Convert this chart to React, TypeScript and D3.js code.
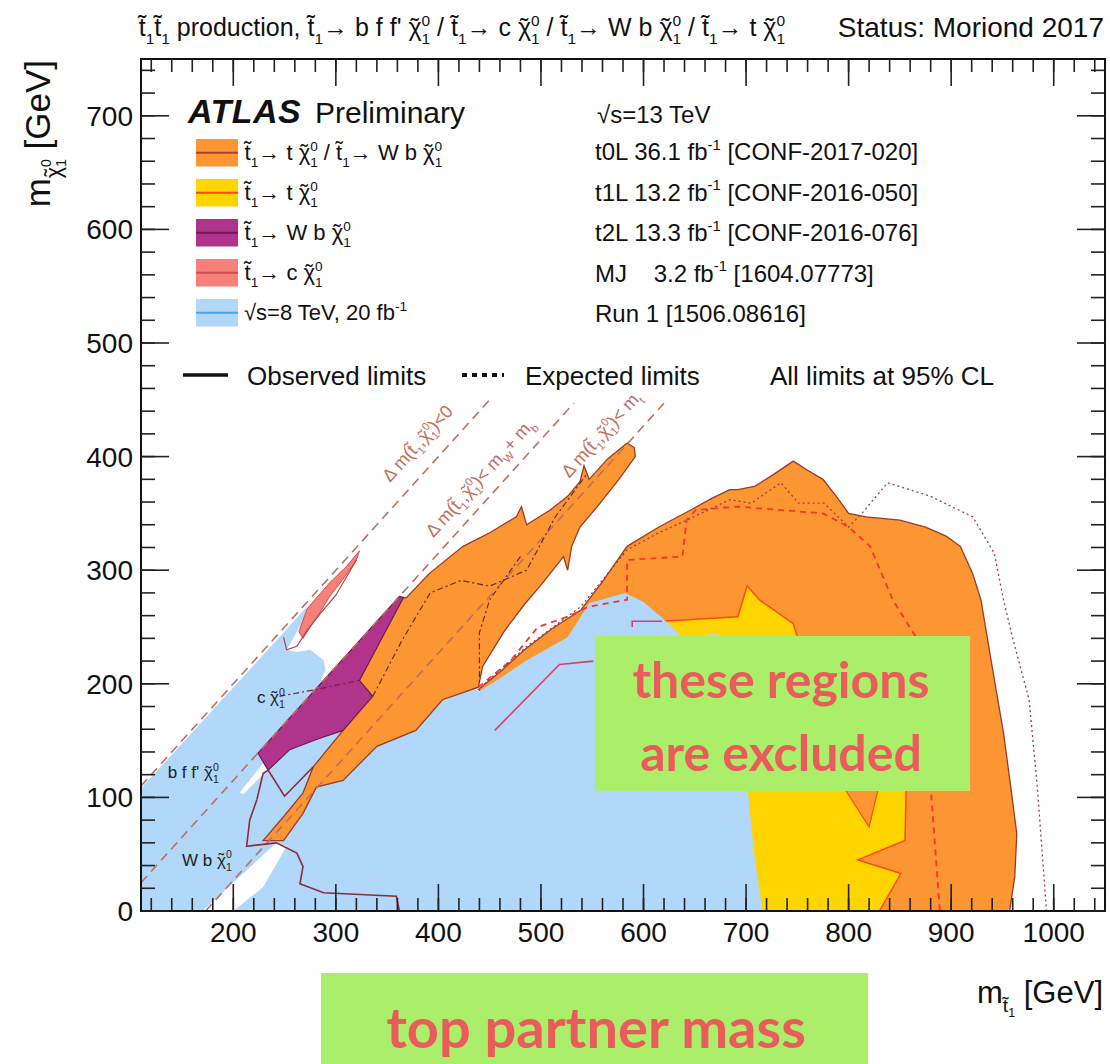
import * as d3 from "d3";

// axis ticks (GeV)
const xTickLabels = [200, 300, 400, 500, 600, 700, 800, 900, 1000];
const yTickLabels = [0, 100, 200, 300, 400, 500, 600, 700];

// exclusion contours, points are [m_stop, m_chi] in GeV
const run1Blue = [
  [110, 0], [110, 108], [250, 246], [272, 268], [268, 256], [262, 246], [256, 236], [252, 230],
  [262, 228], [275, 230], [288, 221], [290, 212], [285, 203], [300, 205], [320, 205],
  [360, 230], [400, 200], [430, 198], [439, 193], [462, 206], [485, 220], [526, 241],
  [547, 271], [582, 280], [600, 272], [617, 259], [638, 241], [672, 244], [695, 220],
  [700, 150], [702, 104], [708, 50], [716, 0],
];
const run1Gaps = [
  [[170, 0], [206, 30], [242, 60], [252, 57], [229, 21], [200, 0]],
  [[206, 104], [229, 130], [233, 124], [210, 103]],
];
const t0LBand = [
  [229, 62], [249, 83], [268, 104], [278, 127], [307, 159], [323, 203], [359, 274], [369, 276],
  [391, 297], [424, 321], [450, 333], [476, 347], [481, 356], [486, 340], [509, 353], [526, 365],
  [538, 378], [542, 392], [547, 380], [565, 398], [584, 412], [591, 408], [592, 400], [576, 380],
  [555, 356], [538, 338], [530, 321], [526, 300], [522, 312], [501, 288], [484, 270], [464, 246],
  [443, 215], [439, 197], [404, 186], [378, 159], [340, 145], [307, 115], [281, 109], [268, 86],
  [249, 62],
];
const t0LBlob = [
  [439, 195], [462, 212], [484, 230], [510, 248], [539, 265], [560, 290], [584, 321], [615, 338],
  [646, 353], [666, 363], [684, 371], [692, 371], [709, 374], [728, 385], [746, 396], [760, 388],
  [775, 380], [788, 365], [800, 350], [817, 347], [850, 344], [875, 338], [895, 330], [909, 321],
  [921, 297], [929, 274], [940, 215], [951, 157], [958, 110], [964, 68], [962, 30], [957, 0],
  [600, 0], [520, 120], [460, 180],
];
const t0LSpike = [[793, 112], [820, 74], [830, 112]];
const t1LYellow = [
  [640, 0], [830, 0], [851, 33], [809, 45], [855, 62], [856, 104], [856, 150], [820, 180],
  [790, 205], [768, 225], [750, 241], [746, 253], [713, 274], [701, 286], [692, 259], [618, 255],
  [600, 250], [640, 100],
];
const t2LPurple = [
  [224, 139], [362, 277], [366, 276], [323, 203], [336, 189], [307, 159], [281, 151], [255, 142],
  [234, 124],
];
const mjSalmon = [
  [264, 246], [272, 266], [294, 289], [310, 303], [323, 317], [320, 309], [307, 292], [294, 277],
  [284, 262], [275, 250], [268, 240],
];

// contour lines
const t2LObserved = [
  [[223, 98], [216, 80], [213, 57], [242, 60], [262, 51], [268, 39], [265, 24], [288, 16], [359, 13], [362, 0]],
  [[223, 98], [229, 121], [234, 124], [250, 101], [278, 127]],
];
const t2LExpected = [[245, 189], [281, 195], [323, 203]];
const mjObserved = [[249, 241], [252, 230], [262, 233], [272, 247], [285, 262], [300, 278], [320, 309]];
const t1LObserved = [
  [[455, 159], [518, 217], [551, 220]],
  [[589, 250], [589, 255], [618, 255]],
];
const t1LExpected = [
  [439, 197], [470, 220], [497, 250], [526, 259], [547, 268], [584, 274], [584, 309], [638, 312],
  [642, 344], [651, 353], [692, 356], [775, 350], [800, 338], [821, 321], [843, 274], [865, 242],
  [880, 109], [889, 0],
];
const t0LExpected = [
  [445, 200], [485, 232], [539, 268], [584, 318], [615, 333], [642, 344], [684, 362], [705, 359],
  [734, 377], [751, 359], [776, 359], [800, 338], [813, 350], [838, 377], [880, 365], [921, 347],
  [942, 315], [951, 274], [960, 240], [976, 186], [984, 109], [993, 0],
];
const bandExpected = [
  [[336, 189], [365, 239], [392, 280], [422, 291], [450, 286], [486, 300], [514, 347], [545, 385]],
  [[480, 312], [450, 274], [440, 245], [440, 200]],
];

// kinematic limits m_chi = m_stop - offset
const diagOffsets = [0, 85, 173];
const diagEnds = [452, 532, 620];
const diagLabelPos = [[384, 408], [445, 378], [563, 416]];

type Seg = string | { sub?: string; sup?: string; raw?: string; scale?: number; shift?: number; dx?: number };

const T = "t\u0303";
const CHI = "\u03c7\u0303";

const diagLabels: Seg[][] = [
  ["\u0394 m(" + T, { sub: "1" }, "," + CHI, { sub: "1", sup: "0" }, ")<0"],
  ["\u0394 m(" + T, { sub: "1" }, "," + CHI, { sub: "1", sup: "0" }, ")< m", { sub: "W" }, "+ m", { sub: "b" }],
  ["\u0394 m(" + T, { sub: "1" }, "," + CHI, { sub: "1", sup: "0" }, ")< m", { sub: "t" }],
];

const regionLabels: { pos: number[]; segs: Seg[] }[] = [
  { pos: [223, 183], segs: ["c " + CHI, { sub: "1", sup: "0" }] },
  { pos: [136, 117], segs: ["b f f' " + CHI, { sub: "1", sup: "0" }] },
  { pos: [150, 40], segs: ["W b " + CHI, { sub: "1", sup: "0" }] },
];

const legendFill = ["#fb9632", "#ffd500", "#b0348b", "#f7807a", "#b1d7fa"];
const legendStroke = ["#a5452b", "#ff4a00", "#6d1c50", "#c8504d", "#4aa3ee"];
const legendText: Seg[][] = [
  [T, { sub: "1" }, "\u2192 t " + CHI, { sub: "1", sup: "0" }, " / " + T, { sub: "1" }, "\u2192 W b " + CHI, { sub: "1", sup: "0" }],
  [T, { sub: "1" }, "\u2192 t " + CHI, { sub: "1", sup: "0" }],
  [T, { sub: "1" }, "\u2192 W b " + CHI, { sub: "1", sup: "0" }],
  [T, { sub: "1" }, "\u2192 c " + CHI, { sub: "1", sup: "0" }],
  ["\u221as=8 TeV, 20 fb", { sup: "-1" }],
];
const refText: Seg[][] = [
  ["t0L 36.1 fb", { sup: "-1" }, " [CONF-2017-020]"],
  ["t1L 13.2 fb", { sup: "-1" }, " [CONF-2016-050]"],
  ["t2L 13.3 fb", { sup: "-1" }, " [CONF-2016-076]"],
  ["MJ\u00a0\u00a0\u00a0 3.2 fb", { sup: "-1" }, " [1604.07773]"],
  ["Run 1 [1506.08616]"],
];
const titleText: Seg[] = [
  T, { sub: "1" }, T, { sub: "1" }, " production, " + T, { sub: "1" }, "\u2192 b f f' " + CHI, { sub: "1", sup: "0" },
  " / " + T, { sub: "1" }, "\u2192 c " + CHI, { sub: "1", sup: "0" },
  " / " + T, { sub: "1" }, "\u2192 W b " + CHI, { sub: "1", sup: "0" },
  " / " + T, { sub: "1" }, "\u2192 t " + CHI, { sub: "1", sup: "0" },
];
const yTitle: Seg[] = [
  "m", { raw: CHI, scale: 0.62, shift: 0.3 }, { raw: "1", scale: 0.4, shift: 0.45 },
  { raw: "0", scale: 0.4, shift: 0.02, dx: -0.23 }, { raw: " [GeV]", scale: 1, shift: 0 },
];
const xTitle: Seg[] = [
  "m", { raw: T, scale: 0.62, shift: 0.3 }, { raw: "1", scale: 0.4, shift: 0.45 },
  { raw: " [GeV]", scale: 1, shift: 0 },
];

const FONT = "'Liberation Sans', Arial, Helvetica, sans-serif";

// text with sub/superscripts and hand-placed tildes
function rich(segs: Seg[], fs: number) {
  const out: any[] = [];
  let shift = 0;
  let pdx = 0;
  let k = 0;
  const emit = (txt: string, size: number, target: number, dx = 0) => {
    const ddx = dx + pdx;
    const ddy = target - shift;
    out.push(
      <tspan key={k++} fontSize={size} dx={ddx ? ddx : undefined} dy={ddy ? ddy : undefined}>{txt}</tspan>
    );
    shift = target;
    pdx = 0;
  };
  const emitStr = (str: string, size: number, target: number, dx = 0) => {
    const chars = Array.from(str);
    let run = "";
    let first = true;
    const flush = () => {
      if (run) {
        emit(run, size, target, first ? dx : 0);
        first = false;
        run = "";
      }
    };
    for (let i = 0; i < chars.length; i++) {
      const c = chars[i];
      if (chars[i + 1] === "\u0303") {
        flush();
        const bw = (c === "t" ? 0.278 : 0.55) * size;
        const tw = 0.333 * size;
        emit(c, size, target, first ? dx : 0);
        first = false;
        const lift = c === "t" ? -0.13 * size : -0.02 * size;
        emit("\u02dc", size, target + lift, -(bw / 2 + tw / 2));
        pdx = bw / 2 - tw / 2;
        i++;
      } else {
        run += c;
      }
    }
    flush();
  };
  const small = fs * 0.62;
  segs.forEach((s) => {
    if (typeof s === "string") {
      emitStr(s, fs, 0);
    } else if (s.raw !== undefined) {
      emitStr(s.raw, fs * (s.scale ?? 1), fs * (s.shift ?? 0), fs * (s.dx ?? 0));
    } else if (s.sub) {
      emit(s.sub, small, fs * 0.3);
      if (s.sup) emit(s.sup, small, -fs * 0.42, -small * 0.56 * s.sub.length);
    } else if (s.sup) {
      emit(s.sup, small, -fs * 0.42);
    }
  });
  return out;
}

export default function App() {
  const x = d3.scaleLinear().domain([110, 1050]).range([141, 1105]);
  const y = d3.scaleLinear().domain([0, 750]).range([911, 59]);
  const line = d3.line<number[]>().x((d) => x(d[0])).y((d) => y(d[1]));
  const poly = (p: number[][]) => line(p) + "Z";

  const [x0, x1] = x.range();
  const [y0, y1] = y.range();
  const minorX = d3.range(120, 1050, 20);
  const minorY = d3.range(20, 750, 20);

  const angle = (-Math.atan2(y(0) - y(100), x(100) - x(0)) * 180) / Math.PI;
  const diagColor = "#c0705a";

  return (
    <svg width={1110} height={1064} style={{ position: "absolute", left: 0, top: 0, background: "#fff" }} fontFamily={FONT}>
      <defs>
        <clipPath id="plot">
          <rect x={x0} y={y1} width={x1 - x0} height={y0 - y1} />
        </clipPath>
      </defs>

      {/* title */}
      <text x={138} y={36} fontSize={25} fill="#111">{rich(titleText, 25)}</text>
      <text x={1104} y={37} fontSize={28} fill="#111" textAnchor="end">Status: Moriond 2017</text>

      <g clipPath="url(#plot)">
        <path d={poly(t0LBlob)} fill="#fb9632" stroke="#9a3b2b" strokeWidth={1.3} />
        <path d={poly(t1LYellow)} fill="#ffd500" stroke="#ff4a10" strokeWidth={1.5} />
        <path d={poly(t0LSpike)} fill="#fb9632" stroke="#ff4a10" strokeWidth={1.2} />
        <path d={poly(run1Blue)} fill="#b1d7fa" />
        {run1Gaps.map((g, i) => (
          <path key={i} d={poly(g)} fill="#fff" />
        ))}
        <path d={poly(t0LBand)} fill="#fb9632" stroke="#9a3b2b" strokeWidth={1.3} />
        <path d={poly(t2LPurple)} fill="#b0348b" stroke="#6d1c50" strokeWidth={1.2} />
        <path d={poly(mjSalmon)} fill="#f7807a" stroke="#c8504d" strokeWidth={1} />

        {/* kinematic lines */}
        {diagOffsets.map((off, i) => {
          const s = Math.max(110, off);
          return (
            <path key={i} d={line([[s, s - off], [diagEnds[i], diagEnds[i] - off]])!}
              fill="none" stroke={diagColor} strokeWidth={1.6} strokeDasharray="9,6" />
          );
        })}

        {t2LObserved.map((l, i) => (
          <path key={i} d={line(l)!} fill="none" stroke="#8b2e35" strokeWidth={1.6} />
        ))}
        <path d={line(t2LExpected)!} fill="none" stroke="#7a2040" strokeWidth={1.2} strokeDasharray="6,3,2,3" />
        <path d={line(mjObserved)!} fill="none" stroke="#b04545" strokeWidth={1.2} />
        {t1LObserved.map((l, i) => (
          <path key={i} d={line(l)!} fill="none" stroke="#e0405a" strokeWidth={1.6} />
        ))}
        <path d={line(t1LExpected)!} fill="none" stroke="#ff3030" strokeWidth={1.8} strokeDasharray="6,5" />
        <path d={line(t0LExpected)!} fill="none" stroke="#9a4040" strokeWidth={1.3} strokeDasharray="2,3" />
        {bandExpected.map((l, i) => (
          <path key={i} d={line(l)!} fill="none" stroke="#6a2a2a" strokeWidth={1.2} strokeDasharray="6,3,2,3" />
        ))}
      </g>

      {/* labels along kinematic lines */}
      {diagLabels.map((segs, i) => (
        <text key={i} fontSize={18} fill={diagColor} textAnchor="middle"
          transform={`translate(${x(diagLabelPos[i][0])},${y(diagLabelPos[i][1])}) rotate(${angle})`}>
          {rich(segs, 18)}
        </text>
      ))}

      {regionLabels.map((r, i) => (
        <text key={i} x={x(r.pos[0])} y={y(r.pos[1])} fontSize={17} fill="#222">{rich(r.segs, 17)}</text>
      ))}

      {/* frame and ticks */}
      <rect x={x0} y={y1} width={x1 - x0} height={y0 - y1} fill="none" stroke="#111" strokeWidth={2} />
      <g stroke="#222" strokeWidth={1.6}>
        {minorX.map((v) => (
          <g key={"mx" + v}>
            <line x1={x(v)} x2={x(v)} y1={y0} y2={y0 - 13} />
            <line x1={x(v)} x2={x(v)} y1={y1} y2={y1 + 13} />
          </g>
        ))}
        {xTickLabels.map((v) => (
          <g key={"Mx" + v}>
            <line x1={x(v)} x2={x(v)} y1={y0} y2={y0 - 27} />
            <line x1={x(v)} x2={x(v)} y1={y1} y2={y1 + 27} />
          </g>
        ))}
        {minorY.map((v) => (
          <g key={"my" + v}>
            <line x1={x0} x2={x0 + 14} y1={y(v)} y2={y(v)} />
            <line x1={x1} x2={x1 - 14} y1={y(v)} y2={y(v)} />
          </g>
        ))}
        {yTickLabels.map((v) => (
          <g key={"My" + v}>
            <line x1={x0} x2={x0 + 28} y1={y(v)} y2={y(v)} />
            <line x1={x1} x2={x1 - 28} y1={y(v)} y2={y(v)} />
          </g>
        ))}
      </g>
      {xTickLabels.map((v) => (
        <text key={"lx" + v} x={x(v)} y={942} fontSize={28} textAnchor="middle" fill="#111">{v}</text>
      ))}
      {yTickLabels.map((v) => (
        <text key={"ly" + v} x={133} y={y(v) + 10} fontSize={28} textAnchor="end" fill="#111">{v}</text>
      ))}

      {/* axis titles */}
      <text transform="translate(50,60) rotate(-90)" textAnchor="end" fontSize={35} fill="#111">
        {rich(yTitle, 35)}
      </text>
      <text x={1103} y={1003} textAnchor="end" fontSize={31} fill="#111">
        {rich(xTitle, 31)}
      </text>

      {/* legend */}
      <text x={188} y={123} fontSize={34} fontWeight="bold" fontStyle="italic" letterSpacing={0.5} fill="#111">ATLAS</text>
      <text x={315} y={123} fontSize={30} fill="#111">Preliminary</text>
      <text x={597} y={123} fontSize={24} fill="#111">{"\u221as=13 TeV"}</text>
      {legendFill.map((c, i) => {
        const top = 139 + i * 40;
        return (
          <g key={i}>
            <rect x={196} y={top} width={42} height={27.5} fill={c} />
            <line x1={196} x2={238} y1={top + 13.75} y2={top + 13.75} stroke={legendStroke[i]} strokeWidth={2} />
            <text x={244} y={top + 21} fontSize={22} fill="#111">{rich(legendText[i], 22)}</text>
            <text x={595} y={160 + i * 40.5} fontSize={24} fill="#111">{rich(refText[i], 24)}</text>
          </g>
        );
      })}
      <line x1={183} x2={228} y1={375} y2={375} stroke="#111" strokeWidth={3.5} />
      <text x={247} y={385} fontSize={26} fill="#111">Observed limits</text>
      <line x1={462} x2={504} y1={375} y2={375} stroke="#111" strokeWidth={4} strokeDasharray="5,5" />
      <text x={525} y={385} fontSize={26} fill="#111">Expected limits</text>
      <text x={770} y={385} fontSize={26} fill="#111">All limits at 95% CL</text>

      {/* annotation boxes */}
      <rect x={595} y={636} width={375} height={155} fill="#abee69" />
      <text x={781} y={698} fontSize={50} fontFamily="Lato, sans-serif" fontWeight={700} fill="#ea5c5c" textAnchor="middle">these regions</text>
      <text x={781} y={771} fontSize={50} fontFamily="Lato, sans-serif" fontWeight={700} fill="#ea5c5c" textAnchor="middle">are excluded</text>
      <rect x={321} y={973} width={547} height={91} fill="#abee69" />
      <text x={596} y={1048} fontSize={56} fontFamily="Lato, sans-serif" fontWeight={700} fill="#ea5c5c" textAnchor="middle">top partner mass</text>
    </svg>
  );
}
